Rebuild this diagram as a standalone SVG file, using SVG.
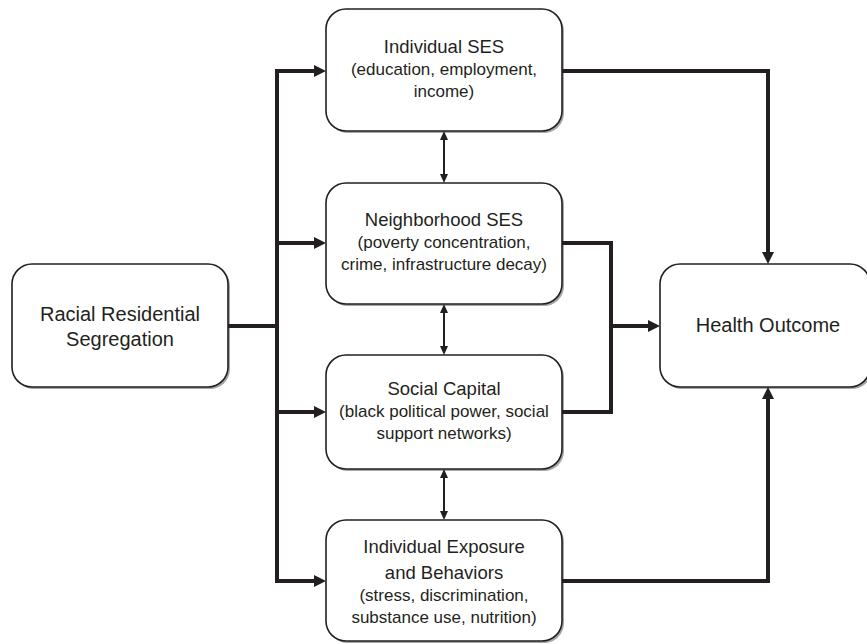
<svg xmlns="http://www.w3.org/2000/svg" width="867" height="644" viewBox="0 0 867 644">
<defs>
<style>
.shadow{fill:#a7a7a7;}
.box{fill:#ffffff;stroke:#231f20;stroke-width:1.6;}
text{font-family:"Liberation Sans",Arial,sans-serif;fill:#231f20;text-anchor:middle;}
.t{font-size:18.5px;}
.s{font-size:17px;}
.b{font-size:20px;}
.thick{fill:none;stroke:#231f20;stroke-width:4;stroke-linejoin:miter;}
.thin{fill:none;stroke:#231f20;stroke-width:2;}
</style>
<marker id="ah" markerUnits="userSpaceOnUse" viewBox="0 0 12 12" markerWidth="12" markerHeight="12" refX="4" refY="6" orient="auto">
<path d="M0,0 L12,6 L0,12 z" fill="#231f20"/>
</marker>
<marker id="sh" markerUnits="userSpaceOnUse" viewBox="0 0 9 8" markerWidth="9" markerHeight="8" refX="3" refY="4" orient="auto-start-reverse">
<path d="M0,0 L9,4 L0,8 z" fill="#231f20"/>
</marker>
</defs>
<rect width="867" height="644" fill="#ffffff"/>

<g id="racial">
<rect class="shadow" x="14" y="266" width="216" height="123" rx="20"/>
<rect class="box" x="12" y="264" width="216" height="123" rx="20"/>
<text class="b" x="120" y="321">Racial Residential</text>
<text class="b" x="120" y="346">Segregation</text>
</g>

<g id="individual-ses">
<rect class="shadow" x="328" y="11" width="236" height="122" rx="20"/>
<rect class="box" x="326" y="9" width="236" height="122" rx="20"/>
<text class="t" x="444" y="53">Individual SES</text>
<text class="s" x="444" y="75">(education, employment,</text>
<text class="s" x="444" y="97">income)</text>
</g>

<g id="neighborhood-ses">
<rect class="shadow" x="328" y="185" width="236" height="121" rx="20"/>
<rect class="box" x="326" y="183" width="236" height="121" rx="20"/>
<text class="t" x="444" y="226">Neighborhood SES</text>
<text class="s" x="444" y="248">(poverty concentration,</text>
<text class="s" x="444" y="270">crime, infrastructure decay)</text>
</g>

<g id="social-capital">
<rect class="shadow" x="328" y="357" width="236" height="114" rx="20"/>
<rect class="box" x="326" y="355" width="236" height="114" rx="20"/>
<text class="t" x="444" y="395">Social Capital</text>
<text class="s" x="444" y="417">(black political power, social</text>
<text class="s" x="444" y="439">support networks)</text>
</g>

<g id="individual-exposure">
<rect class="shadow" x="328" y="522" width="236" height="121" rx="20"/>
<rect class="box" x="326" y="520" width="236" height="121" rx="20"/>
<text class="t" x="444" y="553">Individual Exposure</text>
<text class="t" x="444" y="579">and Behaviors</text>
<text class="s" x="444" y="601">(stress, discrimination,</text>
<text class="s" x="444" y="623">substance use, nutrition)</text>
</g>

<g id="health-outcome">
<rect class="shadow" x="662" y="266" width="210" height="123" rx="20"/>
<rect class="box" x="660" y="264" width="210" height="123" rx="20"/>
<text class="b" x="768" y="332">Health Outcome</text>
</g>

<g id="connectors">
<path class="thick" d="M228,326 H277"/>
<path class="thick" d="M277,69 V583"/>
<path class="thick" d="M275,71 H318" marker-end="url(#ah)"/>
<path class="thick" d="M277,243 H318" marker-end="url(#ah)"/>
<path class="thick" d="M277,412 H318" marker-end="url(#ah)"/>
<path class="thick" d="M275,581 H318" marker-end="url(#ah)"/>
<path class="thick" d="M562,71 H768 V256" marker-end="url(#ah)"/>
<path class="thick" d="M562,581 H768 V395" marker-end="url(#ah)"/>
<path class="thick" d="M562,243 H611 V412 H562"/>
<path class="thick" d="M611,326 H652" marker-end="url(#ah)"/>
<path class="thin" d="M444,137 V177" marker-start="url(#sh)" marker-end="url(#sh)"/>
<path class="thin" d="M444,310 V349" marker-start="url(#sh)" marker-end="url(#sh)"/>
<path class="thin" d="M444,475 V514" marker-start="url(#sh)" marker-end="url(#sh)"/>
</g>
</svg>
